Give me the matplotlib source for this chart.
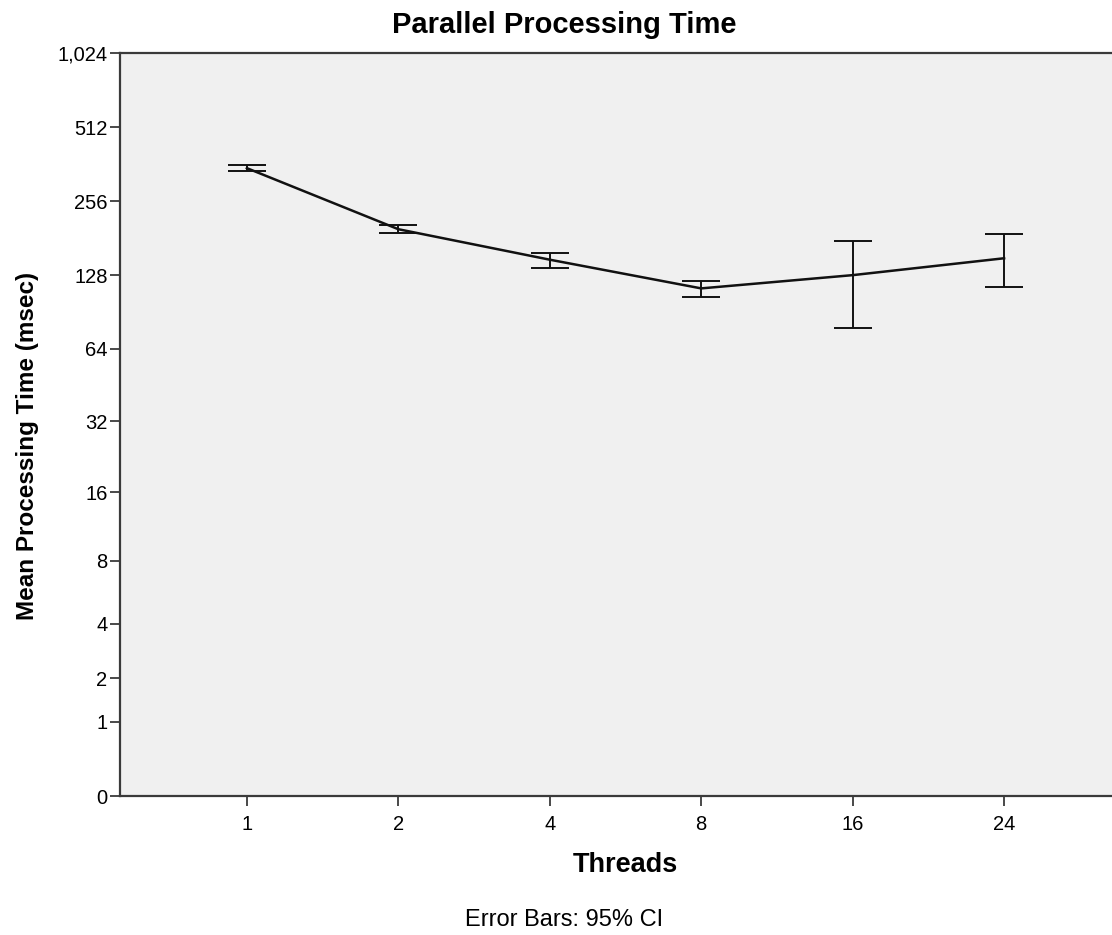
import numpy as np
import matplotlib
matplotlib.use('Agg')
import matplotlib.pyplot as plt

matplotlib.rcParams['font.family'] = ['Liberation Sans', 'DejaVu Sans']

# data (msec)
threads = ['1', '2', '4', '8', '16', '24']
mean_time = [349, 197, 148, 113, 128, 150]
ci_low = [340, 191, 137, 104, 78, 114]
ci_high = [358, 205, 158, 121, 177, 188]

y_ticks = [0, 1, 2, 4, 8, 16, 32, 64, 128, 256, 512, 1024]
y_ticklabels = ['0', '1', '2', '4', '8', '16', '32', '64', '128', '256', '512', '1,024']


def fwd(v):
    return np.log2(np.asarray(v, dtype=float) + 1)


def inv(v):
    return 2.0 ** np.asarray(v, dtype=float) - 1


W, H = 1112, 935
fig = plt.figure(figsize=(W / 100, H / 100), dpi=100)
fig.patch.set_facecolor('white')
# axes runs past the right edge, like the cropped original
ax = fig.add_axes([120 / W, 1 - 796 / H, (1131 - 120) / W, (796 - 53) / H])
ax.set_facecolor('#f0f0f0')

xpos = np.arange(len(threads))
mean_arr = np.array(mean_time)
yerr = [mean_arr - np.array(ci_low), np.array(ci_high) - mean_arr]

ax.set_yscale('function', functions=(fwd, inv))
ax.plot(xpos, mean_arr, color='#111111', linewidth=1.8, zorder=3)
ax.errorbar(xpos, mean_arr, yerr=yerr, fmt='none', ecolor='#111111',
            elinewidth=1.4, capsize=13.5, capthick=1.4, zorder=3)

ax.set_xlim(-0.838, len(threads) - 1 + 0.838)
ax.set_ylim(0, 1024)
ax.set_xticks(xpos)
ax.set_xticklabels(threads)
ax.set_yticks(y_ticks)
ax.set_yticklabels(y_ticklabels)
ax.minorticks_off()

for s in ['left', 'bottom', 'top', 'right']:
    ax.spines[s].set_color('#3a3a3a')
    ax.spines[s].set_linewidth(1.6)

ax.tick_params(axis='both', direction='out', length=7.5, width=1.3,
               color='#3a3a3a', labelsize=14.5, pad=1.5)
ax.tick_params(axis='x', pad=6)

fig.text(564 / W, 1 - 33 / H, 'Parallel Processing Time', ha='center',
         va='baseline', fontsize=21, fontweight='bold')
fig.text(28 / W, 1 - 446 / H, 'Mean Processing Time (msec)', ha='center',
         va='center', rotation=90, fontsize=17.5, fontweight='bold')
fig.text(625 / W, 1 - 865 / H, 'Threads', ha='center', va='center',
         fontsize=19.5, fontweight='bold')
fig.text(564 / W, 1 - 920 / H, 'Error Bars: 95% CI', ha='center',
         va='center', fontsize=17)

fig.savefig('out.png', dpi=100)
